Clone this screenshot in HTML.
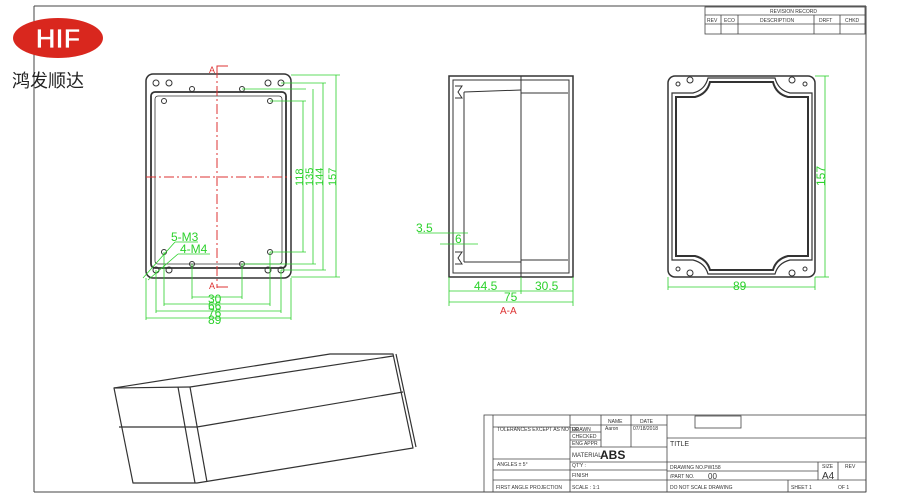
<!DOCTYPE html>
<html><head><meta charset="utf-8"><style>
html,body{margin:0;padding:0;background:#fff;}
svg{display:block;}
text{font-family:"Liberation Sans","Noto Sans CJK SC",sans-serif;}
.t{font-size:5px;fill:#333;}
.g{fill:#2bd12b;font-size:12px;}
</style></head><body>
<svg width="900" height="500" viewBox="0 0 900 500" xmlns="http://www.w3.org/2000/svg">
<rect width="900" height="500" fill="#fff"/>
<g stroke="#444" stroke-width="1" fill="none">
<line x1="34" y1="6" x2="866" y2="6"/><line x1="34" y1="6" x2="34" y2="492"/>
<line x1="866" y1="6" x2="866" y2="492"/><line x1="34" y1="492" x2="866" y2="492"/>
</g>
<ellipse cx="58" cy="38" rx="45" ry="20" fill="#d9271e"/>
<text x="58" y="48" font-size="28" font-weight="bold" fill="#fff" stroke="#d9271e" stroke-width="0.8" text-anchor="middle">HIF</text>
<text x="12" y="87" font-size="18" fill="#222">鸿发顺达</text>
<g stroke="#444" stroke-width="0.8" fill="none">
<rect x="705" y="7" width="160" height="27"/>
<line x1="705" y1="15" x2="865" y2="15"/><line x1="705" y1="24" x2="865" y2="24"/>
<line x1="721" y1="15" x2="721" y2="34"/><line x1="738" y1="15" x2="738" y2="34"/>
<line x1="814" y1="15" x2="814" y2="34"/><line x1="840" y1="15" x2="840" y2="34"/>
</g>
<text class="t" x="770" y="13">REVISION RECORD</text>
<text class="t" x="707" y="22">REV</text><text class="t" x="724" y="22">ECO</text>
<text class="t" x="760" y="22">DESCRIPTION</text><text class="t" x="819" y="22">DRFT</text><text class="t" x="845" y="22">CHKD</text>
<g stroke="#333" fill="none">
<rect x="146" y="74" width="145" height="204" rx="7" stroke-width="1.5"/>
<rect x="151" y="92" width="135" height="176" rx="4" stroke-width="1.8"/>
<rect x="155" y="96" width="127" height="168" rx="3" stroke-width="0.8"/>
<g stroke-width="1"><circle cx="156" cy="83" r="3"/><circle cx="169" cy="83" r="3"/><circle cx="268" cy="83" r="3"/><circle cx="281" cy="83" r="3"/>
<circle cx="156" cy="270" r="3"/><circle cx="169" cy="270" r="3"/><circle cx="268" cy="270" r="3"/><circle cx="281" cy="270" r="3"/>
<circle cx="192" cy="89" r="2.5"/><circle cx="242" cy="89" r="2.5"/><circle cx="192" cy="264" r="2.5"/><circle cx="242" cy="264" r="2.5"/>
<circle cx="164" cy="101" r="2.5"/><circle cx="270" cy="101" r="2.5"/><circle cx="164" cy="252" r="2.5"/><circle cx="270" cy="252" r="2.5"/></g>
</g>
<g stroke="#d33" stroke-width="1" stroke-dasharray="10 3 2 3" fill="none">
<line x1="146" y1="177" x2="291" y2="177"/><line x1="217" y1="68" x2="217" y2="288"/>
</g>
<g stroke="#d33" fill="none"><polyline points="217,68 217,66 228,66"/><polyline points="217,287 228,287"/></g>
<text x="209" y="73" font-size="9" fill="#d33">A</text><text x="209" y="289" font-size="9" fill="#d33">A</text>
<g stroke="#2bd12b" stroke-width="0.8" fill="none">
<line x1="242" y1="89" x2="306" y2="89"/><line x1="270" y1="101" x2="306" y2="101"/><line x1="270" y1="252" x2="306" y2="252"/><line x1="242" y1="264" x2="316" y2="264"/>
<line x1="281" y1="83" x2="326" y2="83"/><line x1="281" y1="270" x2="326" y2="270"/><line x1="291" y1="75" x2="340" y2="75"/><line x1="291" y1="277" x2="340" y2="277"/>
<line x1="303" y1="101" x2="303" y2="252"/><line x1="313" y1="89" x2="313" y2="264"/><line x1="323" y1="83" x2="323" y2="270"/><line x1="336" y1="75" x2="336" y2="277"/>
<line x1="192" y1="264" x2="192" y2="299"/><line x1="242" y1="264" x2="242" y2="299"/><line x1="164" y1="252" x2="164" y2="306"/><line x1="270" y1="252" x2="270" y2="306"/>
<line x1="156" y1="270" x2="156" y2="313"/><line x1="281" y1="270" x2="281" y2="313"/><line x1="146" y1="278" x2="146" y2="320"/><line x1="291" y1="278" x2="291" y2="320"/>
<line x1="192" y1="297" x2="242" y2="297"/><line x1="164" y1="304" x2="270" y2="304"/><line x1="156" y1="311" x2="281" y2="311"/><line x1="146" y1="318" x2="291" y2="318"/>
<line x1="143" y1="278" x2="175" y2="242"/><line x1="148" y1="280" x2="178" y2="254"/><line x1="175" y1="242" x2="198" y2="242"/><line x1="178" y1="254" x2="210" y2="254"/>
</g>
<text class="g" x="171" y="241" font-size="10">5-M3</text><text class="g" x="180" y="253" font-size="10">4-M4</text>
<text class="g" x="208" y="303" font-size="11">30</text><text class="g" x="208" y="310" font-size="11">66</text><text class="g" x="208" y="317" font-size="11">76</text><text class="g" x="208" y="324" font-size="11">89</text>
<g font-size="11"><text transform="translate(303,186) rotate(-90)" fill="#2bd12b">118</text><text transform="translate(313,186) rotate(-90)" fill="#2bd12b">135</text><text transform="translate(323,186) rotate(-90)" fill="#2bd12b">144</text><text transform="translate(336,186) rotate(-90)" fill="#2bd12b">157</text></g>
<g stroke="#333" fill="none" stroke-width="1">
<rect x="449" y="76" width="124" height="201" stroke-width="1.5"/>
<rect x="453" y="80" width="116" height="193"/>
<line x1="521" y1="76" x2="521" y2="277"/>
<line x1="464" y1="92" x2="521" y2="90"/><line x1="464" y1="262" x2="521" y2="262"/>
<line x1="521" y1="93" x2="568" y2="93"/><line x1="521" y1="260" x2="568" y2="260"/>
<line x1="464" y1="92" x2="464" y2="262"/>
<path d="M455 86 L462 86 L458 92 L462 98 L455 98"/><path d="M455 252 L462 252 L458 258 L462 264 L455 264"/>
</g>
<g stroke="#2bd12b" stroke-width="0.8" fill="none">
<line x1="449" y1="277" x2="449" y2="306"/><line x1="573" y1="277" x2="573" y2="306"/><line x1="521" y1="277" x2="521" y2="294"/>
<line x1="449" y1="291" x2="573" y2="291"/><line x1="449" y1="302" x2="573" y2="302"/>
<line x1="418" y1="233" x2="468" y2="233"/><line x1="440" y1="244" x2="478" y2="244"/>
</g>
<text class="g" x="474" y="290" font-size="11">44.5</text><text class="g" x="535" y="290" font-size="11">30.5</text>
<text class="g" x="504" y="301" font-size="11">75</text><text class="g" x="416" y="232" font-size="11">3.5</text><text class="g" x="455" y="243" font-size="10">6</text>
<text x="500" y="314" font-size="10" fill="#d33">A-A</text>
<g stroke="#333" fill="none">
<rect x="668" y="76" width="147" height="201" rx="7" stroke-width="1.5"/>
<path d="M708 78 L775 78 Q778 90 790 93 L812 93 L812 260 L790 260 Q778 263 775 274 L708 274 Q705 263 693 260 L672 260 L672 93 L693 93 Q705 90 708 78Z" stroke-width="1.2"/>
<path d="M710 82 L773 82 Q776 94 788 97 L808 97 L808 256 L788 256 Q776 259 773 270 L710 270 Q707 259 695 256 L676 256 L676 97 L695 97 Q707 94 710 82Z" stroke-width="2"/>
<circle cx="678" cy="84" r="2"/><circle cx="690" cy="80" r="3"/><circle cx="805" cy="84" r="2"/><circle cx="792" cy="80" r="3"/>
<circle cx="678" cy="269" r="2"/><circle cx="690" cy="273" r="3"/><circle cx="805" cy="269" r="2"/><circle cx="792" cy="273" r="3"/>
</g>
<g stroke="#2bd12b" stroke-width="0.8" fill="none">
<line x1="815" y1="76" x2="829" y2="76"/><line x1="815" y1="277" x2="829" y2="277"/><line x1="825" y1="76" x2="825" y2="277"/>
<line x1="668" y1="277" x2="668" y2="290"/><line x1="815" y1="277" x2="815" y2="290"/><line x1="668" y1="287" x2="815" y2="287"/>
</g>
<text x="733" y="290" font-size="12" fill="#2bd12b">89</text>
<text transform="translate(825,186) rotate(-90)" font-size="12" fill="#2bd12b">157</text>
<!-- 3D box -->
<g stroke="#333" stroke-width="1.2" fill="none" stroke-linejoin="round">
<polygon points="114,388 330,354 393,354 413,448 197,483 133,483"/>
<line x1="114" y1="388" x2="190" y2="387"/>
<line x1="178" y1="387" x2="195" y2="483"/><line x1="190" y1="387" x2="207" y2="482"/>
<line x1="190" y1="387" x2="393" y2="356"/>
<line x1="119" y1="427" x2="197" y2="427"/><line x1="197" y1="427" x2="403" y2="392"/>
<line x1="396" y1="354" x2="416" y2="447"/>
</g>
<g stroke="#444" stroke-width="0.8" fill="none">
<rect x="484" y="415" width="382" height="77"/>
<line x1="493" y1="415" x2="493" y2="492"/><line x1="570" y1="415" x2="570" y2="492"/><line x1="667" y1="415" x2="667" y2="492"/>
<line x1="601" y1="415" x2="601" y2="447"/><line x1="631" y1="415" x2="631" y2="447"/>
<line x1="493" y1="427" x2="570" y2="427"/><line x1="493" y1="459" x2="570" y2="459"/><line x1="493" y1="470" x2="570" y2="470"/><line x1="493" y1="480" x2="570" y2="480"/>
<line x1="570" y1="425" x2="667" y2="425"/><line x1="570" y1="432" x2="601" y2="432"/><line x1="570" y1="440" x2="601" y2="440"/><line x1="570" y1="447" x2="667" y2="447"/>
<line x1="570" y1="462" x2="866" y2="462"/><line x1="570" y1="470" x2="667" y2="470"/><line x1="570" y1="480" x2="866" y2="480"/>
<line x1="667" y1="471" x2="818" y2="471"/><line x1="818" y1="462" x2="818" y2="480"/><line x1="838" y1="462" x2="838" y2="480"/><line x1="788" y1="480" x2="788" y2="492"/>
<rect x="695" y="416" width="46" height="12"/>
<line x1="667" y1="438" x2="866" y2="438"/>
</g>
<g class="t">
<text x="497" y="431">TOLERANCES EXCEPT AS NOTED</text>
<text x="497" y="466">ANGLES ± 5°</text><text x="496" y="489">FIRST ANGLE PROJECTION</text>
<text x="572" y="431">DRAWN</text><text x="572" y="438">CHECKED</text><text x="572" y="445">ENG APPR</text>
<text x="605" y="430">Aaron</text><text x="633" y="430">07/18/2018</text><text x="608" y="423">NAME</text><text x="640" y="423">DATE</text>
<text x="572" y="467">QT'Y :</text><text x="572" y="477">FINISH</text><text x="572" y="489">SCALE : 1:1</text>
<text x="670" y="469">DRAWING NO.PW158</text><text x="670" y="478">/PART NO.</text>
<text x="670" y="489">DO NOT SCALE DRAWING</text><text x="791" y="489">SHEET 1</text><text x="838" y="489">OF 1</text>
<text x="822" y="468">SIZE</text><text x="845" y="468">REV</text>
</g>
<text x="572" y="457" font-size="6" fill="#333">MATERIAL :</text>
<text x="600" y="459" font-size="12" font-weight="bold" fill="#222">ABS</text>
<text x="670" y="446" font-size="7" fill="#333">TITLE</text>
<text x="708" y="479" font-size="8" fill="#333">00</text>
<text x="822" y="479" font-size="10" fill="#333">A4</text>
</svg>
</body></html>
